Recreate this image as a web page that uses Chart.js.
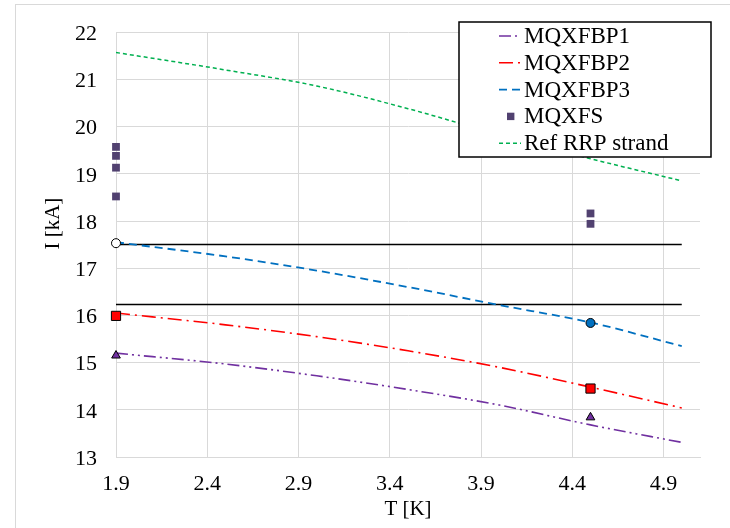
<!DOCTYPE html>
<html>
<head>
<meta charset="utf-8">
<script src="https://cdn.jsdelivr.net/npm/chart.js@4.4.0/dist/chart.umd.min.js"></script>
<style>
  html, body { margin: 0; padding: 0; background: #fff; }
</style>
</head>
<body>
<canvas id="chart" width="730" height="528"></canvas>
<script>
// fitted curves, I [kA] vs T [K]
var tCurve = [1.9, 2.5, 3.0, 3.5, 4.0, 4.5, 5.0];
var bp1Curve = [15.2, 14.97, 14.72, 14.43, 14.1, 13.68, 13.31];
var bp2Curve = [16.05, 15.8, 15.55, 15.25, 14.9, 14.48, 14.04];
var bp3Curve = [17.55, 17.25, 16.95, 16.6, 16.22, 15.85, 15.35];
var rrpCurve = [21.57, 21.2, 20.86, 20.38, 19.83, 19.32, 18.85];

// measured quench currents
var tMeas = [1.9, 4.5];
var bp1Meas = [15.15, 13.84];
var bp2Meas = [15.99, 14.45];
var bp3Meas = [17.53, 15.84];
var tFs = [1.9, 1.9, 1.9, 1.9, 4.5, 4.5];
var fsMeas = [19.57, 19.38, 19.13, 18.52, 18.16, 17.94];

// horizontal reference levels
var tRef = [1.9, 5.0];
var refLevels = [17.5, 16.23];

var xTicks = [1.9, 2.4, 2.9, 3.4, 3.9, 4.4, 4.9];

var PURPLE = '#7030A0', RED = '#FF0000', BLUE = '#0070C0', GREEN = '#00B050', FS = '#514170';
var serif = "'Liberation Serif', 'Times New Roman', serif";

function pts(xs, ys) {
  return xs.map(function (x, i) { return { x: x, y: ys[i] }; });
}

function curve(label, ys, color, dash, width, legendIndex) {
  return {
    label: label, data: pts(tCurve, ys), borderColor: color, borderWidth: width,
    borderDash: dash, pointRadius: 0, cubicInterpolationMode: 'monotone', fill: false,
    order: 2, legendIndex: legendIndex
  };
}

function markers(label, xs, ys, style, radius, fill) {
  return {
    label: label, data: pts(xs, ys), showLine: false, pointStyle: style,
    pointRadius: radius, pointBackgroundColor: fill, pointBorderColor: '#000',
    pointBorderWidth: 1, order: 0, clip: false
  };
}

var datasets = [
  curve('MQXFBP1', bp1Curve, PURPLE, [12, 4, 2, 4, 2, 4], 1.6, 0),
  curve('MQXFBP2', bp2Curve, RED, [14, 5, 2, 5], 1.6, 1),
  curve('MQXFBP3', bp3Curve, BLUE, [8, 5], 1.8, 2),
  {
    label: 'MQXFS', data: pts(tFs, fsMeas), showLine: false, pointStyle: 'rect',
    pointRadius: 5.5, pointBackgroundColor: FS, pointBorderWidth: 0, order: 0,
    clip: false, legendIndex: 3
  },
  curve('Ref RRP strand', rrpCurve, GREEN, [4, 3], 1.5, 4),
  markers('BP1 test', tMeas, bp1Meas, 'triangle', 5, PURPLE),
  markers('BP2 test', tMeas, bp2Meas, 'rect', 6.5, RED),
  markers('BP3 test', tMeas, bp3Meas, 'circle', 4.5, ['#fff', BLUE])
];

refLevels.forEach(function (lvl) {
  datasets.push({
    label: 'level ' + lvl, data: pts(tRef, [lvl, lvl]), borderColor: '#000',
    borderWidth: 1.5, pointRadius: 0, order: 3
  });
});

// light frame around the whole figure
var frame = {
  id: 'frame',
  beforeDraw: function (chart) {
    var ctx = chart.ctx;
    ctx.save();
    ctx.strokeStyle = '#d9d9d9';
    ctx.lineWidth = 1;
    ctx.strokeRect(15.5, 4.5, 760, 600);
    ctx.restore();
  }
};

// boxed legend sitting inside the plot area
var boxLegend = {
  id: 'boxLegend',
  afterDraw: function (chart) {
    var ctx = chart.ctx;
    var items = chart.data.datasets.filter(function (d) { return d.legendIndex !== undefined; })
      .sort(function (a, b) { return a.legendIndex - b.legendIndex; });
    var left = 459, top = 22, w = 252, h = 135, row = 26.8;
    ctx.save();
    ctx.fillStyle = '#fff';
    ctx.fillRect(left, top, w, h);
    ctx.strokeStyle = '#000';
    ctx.lineWidth = 1.5;
    ctx.strokeRect(left, top, w, h);
    ctx.font = '23px ' + serif;
    ctx.textBaseline = 'middle';
    items.forEach(function (d, i) {
      var y = top + 14 + i * row;
      if (d.showLine === false) {
        ctx.fillStyle = d.pointBackgroundColor;
        ctx.fillRect(507, y - 3.7, 7.4, 7.4);
      } else {
        ctx.strokeStyle = d.borderColor;
        ctx.lineWidth = d.borderWidth;
        ctx.setLineDash(d.borderDash);
        ctx.beginPath();
        ctx.moveTo(499, y);
        ctx.lineTo(521, y);
        ctx.stroke();
        ctx.setLineDash([]);
      }
      ctx.fillStyle = '#000';
      ctx.fillText(d.label, 524, y + 1);
    });
    ctx.restore();
  }
};

new Chart(document.getElementById('chart'), {
  type: 'line',
  data: { datasets: datasets },
  plugins: [frame, boxLegend],
  options: {
    responsive: false,
    animation: false,
    layout: { padding: { left: 0, top: 17, right: 30, bottom: 0 } },
    plugins: { legend: { display: false }, tooltip: { enabled: false } },
    scales: {
      x: {
        type: 'linear', min: 1.9, max: 5.1,
        afterBuildTicks: function (scale) {
          scale.ticks = xTicks.map(function (v) { return { value: v }; });
        },
        afterFit: function (scale) { scale.height = 71; },
        grid: { color: '#d9d9d9', drawTicks: false },
        border: { color: '#d9d9d9' },
        ticks: {
          padding: 14, color: '#000', font: { family: serif, size: 22 },
          callback: function (v) { return v.toFixed(1); }
        },
        title: {
          display: true, text: 'T [K]', color: '#000',
          font: { family: serif, size: 21 }, padding: { top: 0, bottom: 6 }
        }
      },
      y: {
        min: 13, max: 22,
        afterFit: function (scale) { scale.width = 116; },
        grid: { color: '#d9d9d9', drawTicks: false },
        border: { color: '#d9d9d9' },
        ticks: {
          stepSize: 1, padding: 19, labelOffset: 2, color: '#000',
          font: { family: serif, size: 22 }
        },
        title: {
          display: true, text: '        I [kA]', color: '#000',
          font: { family: serif, size: 21 }, padding: { top: 41, bottom: 0 }
        }
      }
    }
  }
});
</script>
</body>
</html>
